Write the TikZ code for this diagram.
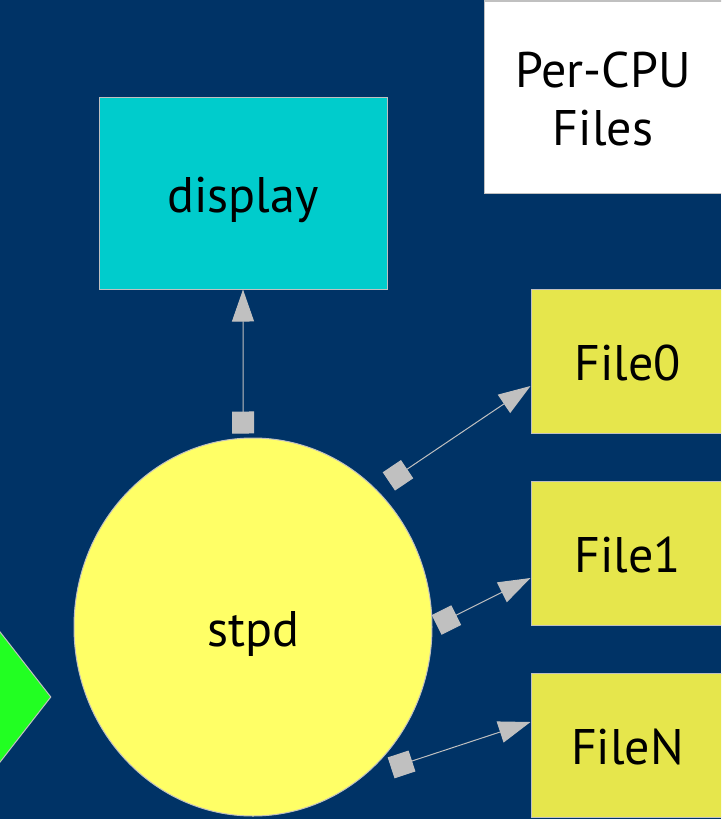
\documentclass[tikz,border=0pt]{standalone}
\usepackage{fontspec}
\setmainfont{PT Sans}
\usetikzlibrary{arrows.meta,shapes.geometric}
\definecolor{deepblue}{HTML}{003366}
\definecolor{linkgray}{HTML}{C0C0C0}
\definecolor{tealfill}{HTML}{00CCCC}
\definecolor{lemon}{HTML}{FFFF66}
\definecolor{mustard}{HTML}{E6E64C}
\definecolor{lime}{HTML}{22FF22}
\tikzset{
  box/.style={draw=linkgray, line width=1pt, rectangle, inner sep=0pt,
    font=\fontsize{50}{58}\selectfont, text height=38pt, text depth=0pt},
  filebox/.style={box, fill=mustard, minimum width=193pt, minimum height=144pt},
  link/.style={draw=linkgray, line width=1pt,
    {Square[length=22pt,width=22pt]}-{Triangle[length=32pt,width=22pt]}},
}
\begin{document}
\begin{tikzpicture}[x=1pt,y=-1pt]
  \path[use as bounding box] (0,0) rectangle (721,819);
  \clip (0,0) rectangle (721,819);
  \fill[deepblue] (0,0) rectangle (721,819);

  % legend box
  \node[box, fill=white, minimum width=238pt, minimum height=192pt,
        align=center, text height=96pt, text depth=0pt]
        (legend) at (603,97) {Per-CPU\\Files};

  % viewer
  \node[box, fill=tealfill, minimum width=288pt, minimum height=192pt]
        (display) at (243,193) {display};

  % output files
  \node[filebox] (file0) at (627.5,361) {File0};
  \node[filebox] (file1) at (627.5,553) {File1};
  \node[filebox] (fileN) at (627.5,745) {FileN};

  % daemon
  \node[ellipse, draw=linkgray, line width=1pt, fill=lemon, inner sep=0pt,
        minimum width=358pt, minimum height=378pt,
        font=\fontsize{50}{58}\selectfont, text height=38pt, text depth=0pt]
        (stpd) at (253,627) {stpd};

  % kernel side (mostly off the left edge)
  \node[diamond, draw=linkgray, line width=1pt, fill=lime, inner sep=0pt,
        minimum width=220pt, minimum height=282pt] (kernel) at (-59,697) {};

  % connectors
  \draw[link, shorten <=4.3pt] (stpd.93.03) -- (display.south);
  \draw[link, shorten <=14.7pt] (stpd.48.35) -- ([yshift=-25pt]file0.west);
  \draw[link, shorten <=4.6pt] (stpd.0) -- ([yshift=-25pt]file1.west);
  \draw[link, shorten <=30.4pt] (stpd.-54.96) -- ([yshift=23pt]fileN.west);
\end{tikzpicture}
\end{document}
